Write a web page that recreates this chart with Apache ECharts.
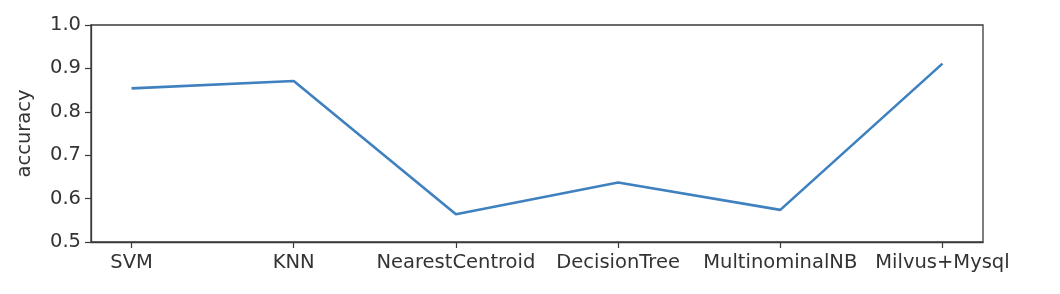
<!DOCTYPE html>
<html>
<head>
<meta charset="utf-8">
<script src="https://cdn.jsdelivr.net/npm/echarts@6/dist/echarts.min.js"></script>
<style>
html,body{margin:0;padding:0;background:#fff;}
#chart{width:1060px;height:294px;}
</style>
</head>
<body>
<div id="chart"></div>
<script>
const categories = ["SVM", "KNN", "NearestCentroid", "DecisionTree", "MultinominalNB", "Milvus+Mysql"];
const accuracy = [0.854, 0.871, 0.564, 0.637, 0.574, 0.911];
const yTicks = [0.5, 0.6, 0.7, 0.8, 0.9, 1.0];

const positions = categories.map((c, i) => i);
const seriesData = accuracy.map((v, i) => [positions[i], v]);

const chart = echarts.init(document.getElementById('chart'), null, {renderer: 'canvas'});
const font = 'DejaVu Sans';
const textColor = '#333';
const axisColor = '#3a3a3a';
chart.setOption({
  animation: false,
  backgroundColor: '#fff',
  grid: {
    left: 91, right: 77, top: 25, bottom: 52,
    show: true, borderColor: axisColor, borderWidth: 1.3, backgroundColor: 'transparent'
  },
  xAxis: {
    type: 'value',
    min: -0.25, max: 5.25,
    splitLine: {show: false},
    axisLine: {show: true, onZero: false, lineStyle: {color: axisColor, width: 1.3}},
    axisTick: {show: true, customValues: positions, length: 6, lineStyle: {color: axisColor, width: 1.2}},
    axisLabel: {
      customValues: positions,
      formatter: v => categories[Math.round(v)] || '',
      color: textColor, fontFamily: font, fontSize: 19.5, margin: 11
    }
  },
  yAxis: {
    type: 'value',
    min: 0.5, max: 1.0, interval: 0.1,
    name: 'accuracy',
    nameLocation: 'middle',
    nameGap: 56,
    nameRotate: 90,
    nameTextStyle: {color: textColor, fontFamily: font, fontSize: 19.5},
    splitLine: {show: false},
    axisLine: {show: true, onZero: false, lineStyle: {color: axisColor, width: 1.3}},
    axisTick: {show: true, length: 6, lineStyle: {color: axisColor, width: 1.2}},
    axisLabel: {
      formatter: v => v.toFixed(1),
      color: textColor, fontFamily: font, fontSize: 19.5, margin: 10
    }
  },
  series: [{
    type: 'line',
    data: seriesData,
    symbol: 'none',
    lineStyle: {color: '#3f80bf', width: 2.6},
    itemStyle: {color: '#3f80bf'}
  }]
});
</script>
</body>
</html>
